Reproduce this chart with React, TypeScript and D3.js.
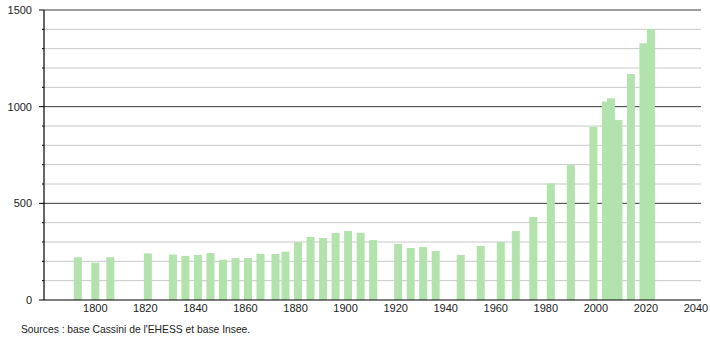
import React from "react";
import * as d3 from "d3";

const years = [1793, 1800, 1806, 1821, 1831, 1836, 1841, 1846, 1851, 1856, 1861, 1866, 1872, 1876, 1881, 1886, 1891, 1896, 1901, 1906, 1911, 1921, 1926, 1931, 1936, 1946, 1954, 1962, 1968, 1975, 1982, 1990, 1999, 2004, 2006, 2009, 2014, 2019, 2022];
const population = [221, 193, 221, 241, 235, 228, 233, 243, 208, 217, 217, 238, 238, 250, 300, 326, 321, 347, 357, 348, 310, 290, 269, 274, 253, 233, 279, 300, 357, 429, 603, 698, 896, 1026, 1043, 931, 1169, 1328, 1402];
const xTicks = [1800, 1820, 1840, 1860, 1880, 1900, 1920, 1940, 1960, 1980, 2000, 2020, 2040];
const yMajor = [0, 500, 1000, 1500];
const yMinor = d3.range(100, 1500, 100).filter((v) => v % 500 !== 0);
const source = "Sources : base Cassini de l'EHESS et base Insee.";

export default function App() {
  const W = 710, H = 340;
  const x = d3.scaleLinear().domain([1779.5, 2042]).range([44, 701]);
  const y = d3.scaleLinear().domain([0, 1500]).range([300, 10]);
  const bw = 8;
  const font = "Arial, 'Liberation Sans', sans-serif";
  return (
    <svg width={W} height={H} style={{ position: "absolute", left: 0, top: 0, background: "#fff" }}>
      {yMinor.map((v) => (
        <g key={"mi" + v}>
          <line x1={44} x2={701} y1={y(v)} y2={y(v)} stroke="#c8c8c8" strokeWidth={1} />
          <line x1={42} x2={44} y1={y(v)} y2={y(v)} stroke="#000" strokeWidth={1} />
        </g>
      ))}
      {yMajor.filter((v) => v > 0).map((v) => (
        <line key={"ma" + v} x1={44} x2={701} y1={y(v)} y2={y(v)} stroke="#3a3a3a" strokeWidth={1} />
      ))}
      {years.map((yr, i) => (
        <rect key={yr} x={x(yr) - bw / 2} y={y(population[i])} width={bw} height={y(0) - y(population[i])} fill="#b3e3ad" />
      ))}
      <line x1={44} x2={701} y1={y(0)} y2={y(0)} stroke="#000" strokeWidth={1.2} />
      <line x1={44} x2={44} y1={y(1500)} y2={y(0)} stroke="#000" strokeWidth={1.2} />
      {yMajor.map((v) => (
        <g key={"yl" + v}>
          <line x1={39} x2={44} y1={y(v)} y2={y(v)} stroke="#000" strokeWidth={1} />
          <text x={32} y={y(v) + 4} textAnchor="end" fontSize={11} fontFamily={font} fill="#222">{v}</text>
        </g>
      ))}
      {xTicks.map((t) => (
        <text key={"xt" + t} x={x(t)} y={312} textAnchor="middle" fontSize={11} fontFamily={font} fill="#222">{t}</text>
      ))}
      <text x={21} y={333} fontSize={10.3} fontFamily={font} fill="#222">{source}</text>
    </svg>
  );
}
